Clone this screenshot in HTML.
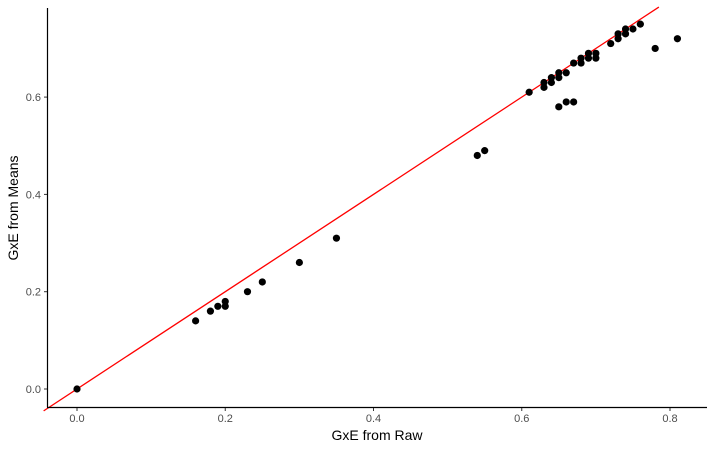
<!DOCTYPE html>
<html><head><meta charset="utf-8"><style>
body{margin:0;background:#fff;width:715px;height:449px;overflow:hidden}
svg{font-family:"Liberation Sans",sans-serif}
</style></head><body>
<svg id="chart" width="715" height="449">
<g id="marks"></g>
<line x1="47.5" y1="8" x2="47.5" y2="407.5" stroke="#000" stroke-width="1.2"/>
<line x1="47" y1="407.5" x2="707" y2="407.5" stroke="#000" stroke-width="1.2"/>
<g id="ticks"></g>
<text x="377" y="440" font-size="14" text-anchor="middle" fill="#000">GxE from Raw</text>
<text transform="translate(18,208) rotate(-90)" font-size="14" text-anchor="middle" fill="#000">GxE from Means</text>
</svg>
<script>
const xVals=[0,0.16,0.18,0.19,0.20,0.20,0.23,0.25,0.30,0.35,0.54,0.55,0.61,0.63,0.63,0.64,0.64,0.65,0.65,0.66,0.67,0.68,0.68,0.69,0.69,0.70,0.70,0.72,0.73,0.73,0.74,0.74,0.75,0.76,0.78,0.81,0.65,0.66,0.67];
const yVals=[0,0.14,0.16,0.17,0.17,0.18,0.20,0.22,0.26,0.31,0.48,0.49,0.61,0.62,0.63,0.63,0.64,0.64,0.65,0.65,0.67,0.67,0.68,0.68,0.69,0.68,0.69,0.71,0.72,0.73,0.73,0.74,0.74,0.75,0.70,0.72,0.58,0.59,0.59];
const xTicks=[0,0.2,0.4,0.6,0.8];
const yTicks=[0,0.2,0.4,0.6];
const xs=v=>77+v*741.25, ys=v=>389-v*486.5;
const NS="http://www.w3.org/2000/svg";
const m=document.getElementById('marks'), t=document.getElementById('ticks');
const ln=document.createElementNS(NS,'line');


const a=-0.045,b=0.785;
ln.setAttribute('x1',xs(a));ln.setAttribute('y1',ys(a));ln.setAttribute('x2',xs(b));ln.setAttribute('y2',ys(b));
ln.setAttribute('stroke','#ff0000');ln.setAttribute('stroke-width','1.3');
m.appendChild(ln);
xVals.forEach((x,i)=>{const c=document.createElementNS(NS,'circle');


c.setAttribute('cx',xs(x));c.setAttribute('cy',ys(yVals[i]));c.setAttribute('r','3.6');c.setAttribute('fill','#000');m.appendChild(c);});
xTicks.forEach(v=>{const l=document.createElementNS(NS,'line');


l.setAttribute('x1',xs(v));l.setAttribute('x2',xs(v));l.setAttribute('y1',408);l.setAttribute('y2',411);l.setAttribute('stroke','#333');t.appendChild(l);
const s=document.createElementNS(NS,'text');


s.setAttribute('x',xs(v));s.setAttribute('y',422);s.setAttribute('font-size','11');s.setAttribute('text-anchor','middle');s.setAttribute('fill','#4d4d4d');s.textContent=v.toFixed(1);t.appendChild(s);});
yTicks.forEach(v=>{const l=document.createElementNS(NS,'line');


l.setAttribute('x1',44);l.setAttribute('x2',47);l.setAttribute('y1',ys(v));l.setAttribute('y2',ys(v));l.setAttribute('stroke','#333');t.appendChild(l);
const s=document.createElementNS(NS,'text');


s.setAttribute('x',41);s.setAttribute('y',ys(v)+4);s.setAttribute('font-size','11');s.setAttribute('text-anchor','end');s.setAttribute('fill','#4d4d4d');s.textContent=v.toFixed(1);t.appendChild(s);});
</script>
</body></html>
